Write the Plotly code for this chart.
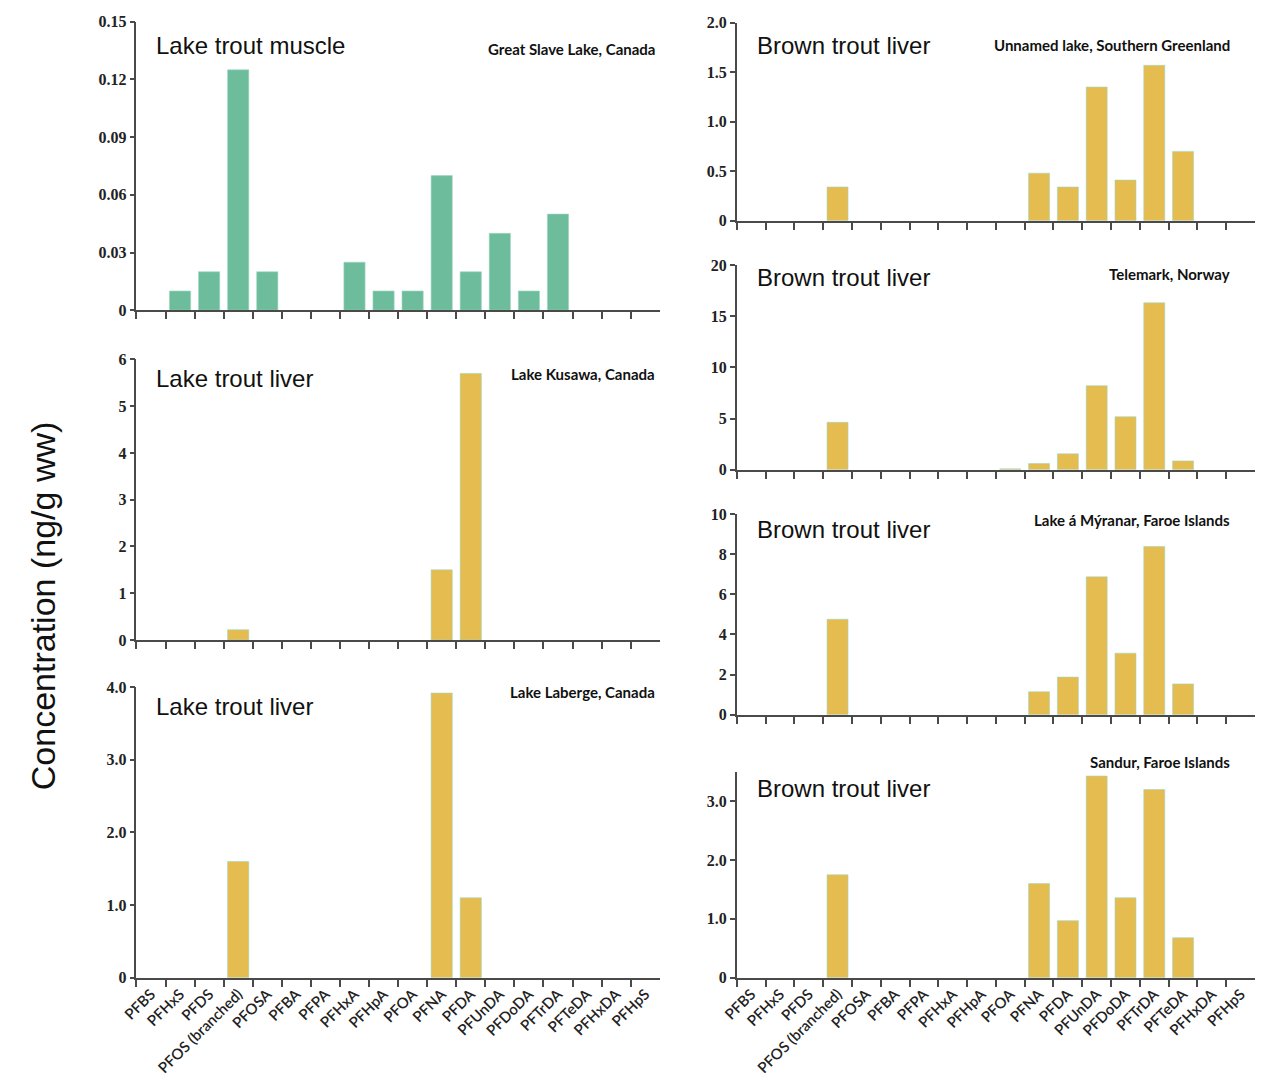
import plotly.graph_objects as go

W, H = 1261, 1091

categories = ["PFBS", "PFHxS", "PFDS", "PFOS (branched)", "PFOSA", "PFBA", "PFPA",
              "PFHxA", "PFHpA", "PFOA", "PFNA", "PFDA", "PFUnDA", "PFDoDA",
              "PFTrDA", "PFTeDA", "PFHxDA", "PFHpS"]

muscle_great_slave = [None, 0.01, 0.02, 0.125, 0.02, None, None, 0.025, 0.01, 0.01,
                      0.07, 0.02, 0.04, 0.01, 0.05, None, None, None]
liver_kusawa = [None, None, None, 0.22, None, None, None, None, None, None,
                1.5, 5.7, None, None, None, None, None, None]
liver_laberge = [None, None, None, 1.6, None, None, None, None, None, None,
                 3.92, 1.1, None, None, None, None, None, None]
brown_greenland = [None, None, None, 0.34, None, None, None, None, None, None,
                   0.48, 0.34, 1.35, 0.41, 1.57, 0.70, None, None]
brown_telemark = [None, None, None, 4.63, None, None, None, None, None, 0.08,
                  0.6, 1.55, 8.2, 5.17, 16.3, 0.86, None, None]
brown_myranar = [None, None, None, 4.76, None, None, None, None, None, None,
                 1.15, 1.88, 6.87, 3.07, 8.38, 1.54, None, None]
brown_sandur = [None, None, None, 1.75, None, None, None, None, None, None,
                1.6, 0.97, 3.43, 1.36, 3.2, 0.68, None, None]

ticks_muscle = [0, 0.03, 0.06, 0.09, 0.12, 0.15]
ticktext_muscle = ["0", "0.03", "0.06", "0.09", "0.12", "0.15"]
ticks_kusawa = [0, 1, 2, 3, 4, 5, 6]
ticktext_kusawa = ["0", "1", "2", "3", "4", "5", "6"]
ticks_laberge = [0, 1, 2, 3, 4]
ticktext_laberge = ["0", "1.0", "2.0", "3.0", "4.0"]
ticks_greenland = [0, 0.5, 1.0, 1.5, 2.0]
ticktext_greenland = ["0", "0.5", "1.0", "1.5", "2.0"]
ticks_telemark = [0, 5, 10, 15, 20]
ticktext_telemark = ["0", "5", "10", "15", "20"]
ticks_myranar = [0, 2, 4, 6, 8, 10]
ticktext_myranar = ["0", "2", "4", "6", "8", "10"]
ticks_sandur = [0, 1, 2, 3]
ticktext_sandur = ["0", "1.0", "2.0", "3.0"]

GREEN = "#6dbd9c"
YELLOW = "#e5bc50"
AXIS = "#4a4a4a"

panels = [
    (muscle_great_slave, GREEN, 122, 652, 14, 307, [0, 0.15], ticks_muscle, ticktext_muscle,
     "Lake trout muscle", "Great Slave Lake, Canada", 38, 42, False),
    (liver_kusawa, YELLOW, 122, 652, 357, 642, [0, 6], ticks_kusawa, ticktext_kusawa,
     "Lake trout liver", "Lake Kusawa, Canada", 376, 372, False),
    (liver_laberge, YELLOW, 122, 652, 690, 985, [0, 4], ticks_laberge, ticktext_laberge,
     "Lake trout liver", "Lake Laberge, Canada", 710, 695, True),
    (brown_greenland, YELLOW, 730, 1255, 15, 216, [0, 2], ticks_greenland, ticktext_greenland,
     "Brown trout liver", "Unnamed lake, Southern Greenland", 38, 38, False),
    (brown_telemark, YELLOW, 730, 1255, 261, 469, [0, 20], ticks_telemark, ticktext_telemark,
     "Brown trout liver", "Telemark, Norway", 274, 270, False),
    (brown_myranar, YELLOW, 730, 1255, 514, 718, [0, 10], ticks_myranar, ticktext_myranar,
     "Brown trout liver", "Lake á Mýranar, Faroe Islands", 530, 520, False),
    (brown_sandur, YELLOW, 730, 1255, 776, 985, [0, 3.5], ticks_sandur, ticktext_sandur,
     "Brown trout liver", "Sandur, Faroe Islands", 793, 766, True),
]

fig = go.Figure()
annotations = []
for i, (vals, col, x0, x1, yt, yb, yr, tv, tt, species, loc, sy, ly, showx) in enumerate(panels):
    n = "" if i == 0 else str(i + 1)
    fig.add_trace(go.Bar(
        x=categories, y=vals, marker=dict(color=col, line=dict(color="#9fd6c4", width=0.6)),
        xaxis="x" + n, yaxis="y" + n, showlegend=False, hoverinfo="x+y"))
    fig.update_layout(**{
        "xaxis" + n: dict(
            domain=[x0 / W, x1 / W], anchor="y" + n, type="category",
            categoryorder="array", categoryarray=categories, range=[-0.5, 17.5],
            tickson="boundaries", ticks="outside", ticklen=7, tickwidth=1.5, tickcolor=AXIS,
            showline=True, linecolor=AXIS, linewidth=2, showgrid=False, zeroline=False,
            showticklabels=showx, tickangle=-45,
            tickfont=dict(family="Lato", size=15, color="#222", weight=600)),
        "yaxis" + n: dict(
            domain=[1 - yb / H, 1 - yt / H], anchor="x" + n, range=yr,
            tickvals=tv, ticktext=tt, ticks="outside", ticklen=5, tickwidth=1.5,
            tickcolor=AXIS, showline=True, linecolor=AXIS, linewidth=1.5,
            showgrid=False, zeroline=False,
            tickfont=dict(family="Liberation Serif", size=16, color="#222", weight="bold")),
    })
    annotations.append(dict(
        text=species, x=(x0 + 18) / W, y=1 - sy / H, xref="paper", yref="paper",
        xanchor="left", yanchor="middle", showarrow=False,
        font=dict(family="Liberation Sans", size=24, color="#111")))
    annotations.append(dict(
        text=loc, x=(x1 - 3 if x0 < 600 else x1 - 23) / W, y=1 - ly / H, xref="paper", yref="paper",
        xanchor="right", yanchor="middle", showarrow=False,
        font=dict(family="Lato", size=15, color="#111", weight="bold")))

annotations.append(dict(
    text="Concentration (ng/g ww)", x=27 / W, y=1 - 607 / H, xref="paper", yref="paper",
    xanchor="center", yanchor="middle", textangle=-90, showarrow=False,
    font=dict(family="Liberation Sans", size=34, color="#111")))

fig.update_layout(
    width=W, height=H, margin=dict(l=0, r=0, t=0, b=0),
    paper_bgcolor="white", plot_bgcolor="white", bargap=0.27,
    annotations=annotations,
)

fig.write_html("out.html", config={"displayModeBar": False},
               post_script="document.body.style.margin='0px';document.body.style.overflow='hidden';")
